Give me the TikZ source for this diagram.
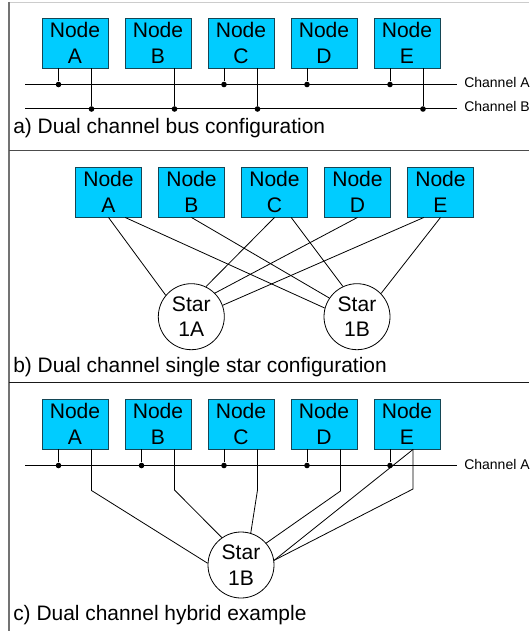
\documentclass[tikz,border=0pt]{standalone}
\usepackage{fontspec}
\setmainfont{Liberation Sans}
\usetikzlibrary{positioning,calc}
\definecolor{nodeblue}{RGB}{0,204,255}
\definecolor{nodeline}{RGB}{20,70,85}
\tikzset{
    nodebox/.style={draw=nodeline, line width=0.7pt, fill=nodeblue, rectangle, minimum width=49.5pt, minimum height=37.5pt, inner sep=0pt, align=center, font=\fontsize{15.8}{19}\selectfont},
    starnode/.style={draw, line width=0.6pt, fill=white, circle, minimum size=49.5pt, inner sep=0pt, align=center, font=\fontsize{15.8}{19}\selectfont},
    tap/.style={circle, fill=black, minimum size=4.2pt, inner sep=0pt},
    link/.style={line width=0.6pt},
    bus/.style={line width=0.75pt},
    caption/.style={anchor=base west, inner sep=0pt, font=\fontsize{15.7}{19}\selectfont},
    chan/.style={anchor=base west, inner sep=0pt, font=\fontsize{10.5}{12}\selectfont}
}
\begin{document}
\begin{tikzpicture}[x=0.75pt, y=-0.75pt, node distance=62.25pt]
    \useasboundingbox (0,0) rectangle (529,631);

    % frame
    \draw[line width=0.8pt, black!20] (9,2.5) -- (529,2.5);
    \draw[line width=1.1pt, black!55] (9,2) -- (9,631);
    \draw[line width=1pt, black!70] (9,150.5) -- (529,150.5);
    \draw[line width=0.8pt, black!90] (9,382.5) -- (529,382.5);

    % a) bus
    \node (aA) [nodebox] at (75,43) {Node\\A};
    \node (aB) [nodebox, right of=aA] {Node\\B};
    \node (aC) [nodebox, right of=aB] {Node\\C};
    \node (aD) [nodebox, right of=aC] {Node\\D};
    \node (aE) [nodebox, right of=aD] {Node\\E};

    \coordinate (a_chA_start) at (25,84.5);
    \coordinate (a_chA_end) at (457,84.5);
    \coordinate (a_chB_start) at (25,109);
    \coordinate (a_chB_end) at (457,109);
    \node (a_chA) [chan] at (464,88) {Channel A};
    \node (a_chB) [chan] at (464,112) {Channel B};
    \draw[bus] (a_chA_start) -- (a_chA_end);
    \draw[bus] (a_chB_start) -- (a_chB_end);

    \node (a_tapA1) [tap] at (58.5,84.5) {};
    \node (a_tapC1) [tap] at (224,84.5) {};
    \node (a_tapD1) [tap] at (307,84.5) {};
    \node (a_tapE1) [tap] at (390,84.5) {};
    \node (a_tapA2) [tap] at (91.5,109) {};
    \node (a_tapB2) [tap] at (174.5,109) {};
    \node (a_tapC2) [tap] at (257.5,109) {};
    \node (a_tapE2) [tap] at (423,109) {};

    \draw[link] (a_tapA1 |- aA.south) -- (a_tapA1);
    \draw[link] (a_tapA2 |- aA.south) -- (a_tapA2);
    \draw[link] (a_tapB2 |- aB.south) -- (a_tapB2);
    \draw[link] (a_tapC1 |- aC.south) -- (a_tapC1);
    \draw[link] (a_tapC2 |- aC.south) -- (a_tapC2);
    \draw[link] (a_tapD1 |- aD.south) -- (a_tapD1);
    \draw[link] (a_tapE1 |- aE.south) -- (a_tapE1);
    \draw[link] (a_tapE2 |- aE.south) -- (a_tapE2);

    \node (a_text) [caption] at (13,133.5) {a) Dual channel bus configuration};

    % b) single star
    \node (bA) [nodebox] at (108.5,192) {Node\\A};
    \node (bB) [nodebox, right of=bA] {Node\\B};
    \node (bC) [nodebox, right of=bB] {Node\\C};
    \node (bD) [nodebox, right of=bC] {Node\\D};
    \node (bE) [nodebox, right of=bD] {Node\\E};

    \node (star1A) [starnode] at (191.3,316.7) {Star\\1A};
    \node (star1B) [starnode] at (357,316.7) {Star\\1B};

    \draw[link] (bA.south) -- (star1A.140);
    \draw[link] ([xshift=12.5pt]bA.south) -- (star1B.165);
    \draw[link] (bB.south) -- (star1B.146);
    \draw[link] (bC.south) -- (star1A.64);
    \draw[link] ([xshift=12.5pt]bC.south) -- (star1B.115);
    \draw[link] (bD.south) -- (star1A.45);
    \draw[link] ([xshift=-12.5pt]bE.south) -- (star1A.20);
    \draw[link] (bE.south) -- (star1B.44);

    \node (b_text) [caption] at (13,372) {b) Dual channel single star configuration};

    % c) hybrid
    \node (cA) [nodebox] at (75,424) {Node\\A};
    \node (cB) [nodebox, right of=cA] {Node\\B};
    \node (cC) [nodebox, right of=cB] {Node\\C};
    \node (cD) [nodebox, right of=cC] {Node\\D};
    \node (cE) [nodebox, right of=cD] {Node\\E};

    \node (starC) [starnode] at (241,565) {Star\\1B};

    \coordinate (c_chA_start) at (25,465.5);
    \coordinate (c_chA_end) at (457,465.5);
    \node (c_chA) [chan] at (464,469) {Channel A};
    \draw[bus] (c_chA_start) -- (c_chA_end);

    \node (c_tapA) [tap] at (58.5,465.5) {};
    \node (c_tapB) [tap] at (141.5,465.5) {};
    \node (c_tapC) [tap] at (224,465.5) {};
    \node (c_tapD) [tap] at (307,465.5) {};
    \node (c_tapE) [tap] at (390,465.5) {};

    \draw[link] (c_tapA |- cA.south) -- (c_tapA);
    \draw[link] (c_tapB |- cB.south) -- (c_tapB);
    \draw[link] (c_tapC |- cC.south) -- (c_tapC);
    \draw[link] (c_tapD |- cD.south) -- (c_tapD);
    \draw[link] (c_tapE |- cE.south) -- (c_tapE);

    \coordinate (c_bendA) at (91.5,490.5);
    \coordinate (c_bendB) at (174.5,490);
    \coordinate (c_bendC) at (257.5,490);
    \coordinate (c_bendD) at (340.5,491);
    \coordinate (c_bendE) at (413,489);

    \draw[link] (c_bendA |- cA.south) -- (c_bendA) -- (starC.177);
    \draw[link] (c_bendB |- cB.south) -- (c_bendB) -- (starC.125);
    \draw[link] (c_bendC |- cC.south) -- (c_bendC) -- (starC.73);
    \draw[link] (c_bendD |- cD.south) -- (c_bendD) -- (starC.41);
    \draw[link] (c_bendE |- cE.south) -- (c_bendE) -- (starC.8);
    \draw[link] (c_bendE |- cE.south) -- (starC.8);

    \node (c_text) [caption] at (13,620.5) {c) Dual channel hybrid example};
\end{tikzpicture}
\end{document}
